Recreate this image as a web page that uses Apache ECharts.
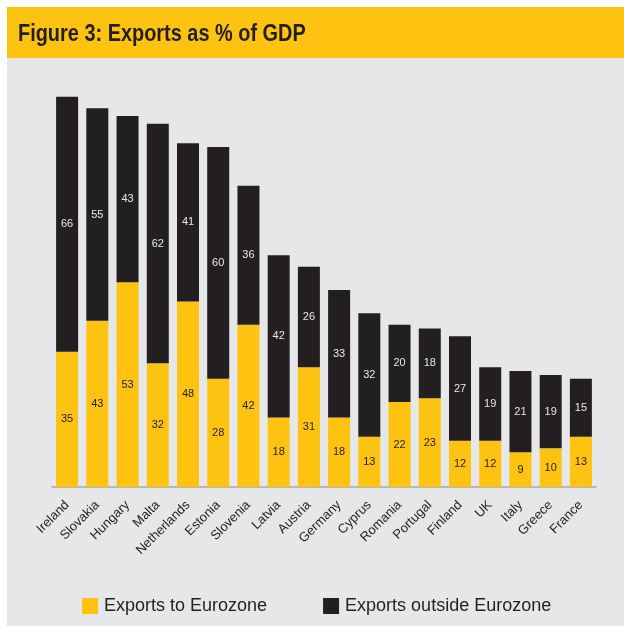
<!DOCTYPE html>
<html>
<head>
<meta charset="utf-8">
<title>Figure 3: Exports as % of GDP</title>
<script src="https://cdn.jsdelivr.net/npm/echarts@6/dist/echarts.min.js"></script>
<style>
  html, body { margin: 0; padding: 0; background: #ffffff; }
  #chart { width: 624px; height: 626px; }
</style>
</head>
<body>
<div id="chart"></div>
<script>
// Countries, ordered by total exports as % of GDP
const countries = ['Ireland', 'Slovakia', 'Hungary', 'Malta', 'Netherlands', 'Estonia', 'Slovenia',
  'Latvia', 'Austria', 'Germany', 'Cyprus', 'Romania', 'Portugal', 'Finland', 'UK', 'Italy',
  'Greece', 'France'];
// Exports to Eurozone countries, % of GDP
const toEurozone = [35, 43, 53, 32, 48, 28, 42, 18, 31, 18, 13, 22, 23, 12, 12, 9, 10, 13];
// Exports to the rest of the world, % of GDP
const outsideEurozone = [66, 55, 43, 62, 41, 60, 36, 42, 26, 33, 32, 20, 18, 27, 19, 21, 19, 15];

const YELLOW = '#fdc310';
const DARK = '#231f20';
const PANEL = '#e6e7e9';
const FONT = '"Liberation Sans", Arial, Helvetica, sans-serif';

const chart = echarts.init(document.getElementById('chart'), null, { renderer: 'canvas' });

chart.setOption({
  backgroundColor: '#ffffff',
  animation: false,
  graphic: [
    // grey panel behind the plot
    { type: 'rect', left: 7, top: 58, z: -10, shape: { width: 617, height: 568 }, style: { fill: PANEL } },
    // yellow heading band
    { type: 'rect', left: 7, top: 7, z: -10, shape: { width: 617, height: 51 }, style: { fill: YELLOW } },
    // heading, set in a slightly condensed bold face
    {
      type: 'text',
      x: 18,
      y: 22,
      scaleX: 0.83,
      z: 10,
      style: {
        text: 'Figure 3: Exports as % of GDP',
        fontFamily: FONT,
        fontSize: 24,
        fontWeight: 'bold',
        fill: DARK,
        verticalAlign: 'top'
      }
    }
  ],
  legend: {
    left: 77,
    top: 592,
    itemWidth: 16,
    itemHeight: 16,
    itemGap: 56,
    icon: 'rect',
    textStyle: { fontFamily: FONT, fontSize: 18, color: DARK, padding: [0, 0, 0, 1] },
    data: ['Exports to Eurozone', 'Exports outside Eurozone']
  },
  grid: { left: 52, right: 28, top: 62, bottom: 139, containLabel: false },
  xAxis: {
    type: 'category',
    data: countries,
    axisTick: { show: false },
    axisLine: { lineStyle: { color: '#a7a9ac', width: 1.5 } },
    axisLabel: {
      interval: 0,
      rotate: 45,
      margin: 16,
      fontFamily: FONT,
      fontSize: 13,
      color: DARK
    }
  },
  yAxis: {
    type: 'value',
    min: 0,
    max: 110,
    show: false,
    splitLine: { show: false }
  },
  series: [
    {
      name: 'Exports to Eurozone',
      type: 'bar',
      stack: 'exports',
      barWidth: 22,
      data: toEurozone,
      itemStyle: { color: YELLOW },
      label: {
        show: true,
        position: 'inside',
        fontFamily: FONT,
        fontSize: 11,
        color: DARK
      }
    },
    {
      name: 'Exports outside Eurozone',
      type: 'bar',
      stack: 'exports',
      barWidth: 22,
      data: outsideEurozone,
      itemStyle: { color: DARK },
      label: {
        show: true,
        position: 'inside',
        fontFamily: FONT,
        fontSize: 11,
        color: '#e8e8e8'
      }
    }
  ]
});
</script>
</body>
</html>
